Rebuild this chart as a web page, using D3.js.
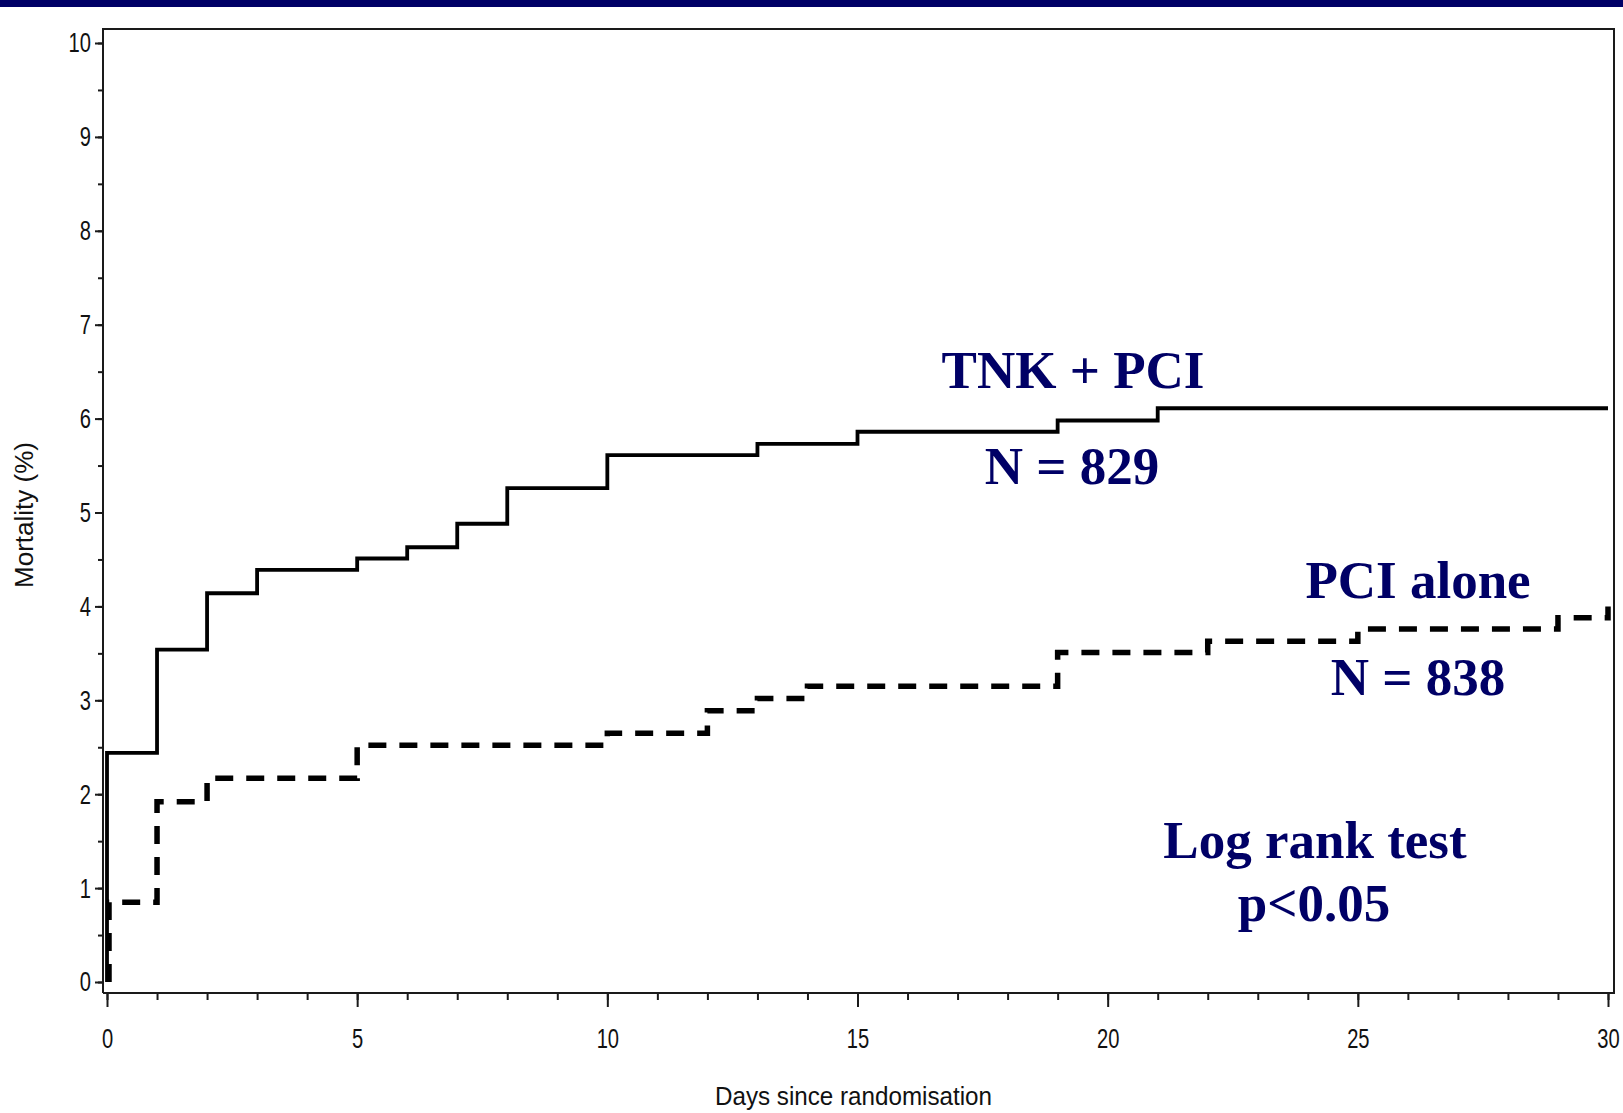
<!DOCTYPE html>
<html>
<head>
<meta charset="utf-8">
<script src="https://cdn.jsdelivr.net/npm/d3@7"></script>
<style>
  html, body { margin: 0; padding: 0; background: #fff; }
  svg { display: block; }
  .tick-lbl { font-family: "Liberation Sans", Arial, sans-serif; font-size: 28px; fill: #111; }
  .ax-title { font-family: "Liberation Sans", Arial, sans-serif; font-size: 25px; fill: #111; }
  .note { font-family: "Liberation Serif", "Times New Roman", serif; font-weight: bold; font-size: 53px; fill: #000066; }
</style>
</head>
<body>
<div id="chart"></div>
<script>
/* ── data ── */
const tnkDays = [0, 0, 1, 2, 3, 5, 6, 7, 8, 10, 13, 15, 19, 21, 30];
const tnkMort = [0, 2.44, 3.54, 4.14, 4.39, 4.51, 4.63, 4.88, 5.26, 5.61, 5.73, 5.86, 5.98, 6.11, 6.11];

const pciDays = [0.04, 0.04, 1, 2, 5, 10, 12, 13, 14, 19, 22, 25, 29, 30];
const pciMort = [0, 0.85, 1.92, 2.17, 2.52, 2.65, 2.89, 3.02, 3.15, 3.51, 3.63, 3.76, 3.88, 4.0];

const xMajor = [0, 5, 10, 15, 20, 25, 30];
const xMinor = d3.range(0, 31, 1);
const yMajor = [0, 1, 2, 3, 4, 5, 6, 7, 8, 9, 10];
const yMinor = d3.range(0, 10.01, 0.5);

const xTitle = 'Days since randomisation';
const yTitle = 'Mortality (%)';
const notes  = ['TNK + PCI', 'N = 829', 'PCI alone', 'N = 838', 'Log rank test', 'p<0.05'];

/* ── layout ── */
const W = 1623, H = 1113;
const FL = 103, FR = 1614, FT = 29, FB = 993;   // frame
const SQ = 0.72;                                  // narrow tick font

const svg = d3.select('#chart').append('svg')
    .attr('width', W)
    .attr('height', H);

svg.append('rect').attr('x', 0).attr('y', 0).attr('width', W).attr('height', 7).attr('fill', '#000066');

const x = d3.scaleLinear().domain([0, 30]).range([107, 1608]);
const y = d3.scaleLinear().domain([0, 10]).range([982, 43]);

/* frame */
svg.append('path')
    .attr('d', `M${FL},${FB}V${FT}H${FR}V${FB}H${FL}`)
    .attr('fill', 'none')
    .attr('stroke', '#1a1a1a')
    .attr('stroke-width', 2);

/* axes */
function squeeze(sel) {
    sel.selectAll('text').each(function() {
        const t = d3.select(this);
        const tx = +t.attr('x') || 0;
        t.attr('x', 0).attr('class', 'tick-lbl')
         .attr('transform', `translate(${tx},0) scale(${SQ},1)`);
    });
}

const yMinG = svg.append('g').attr('transform', `translate(${FL},0)`)
    .call(d3.axisLeft(y).tickValues(yMinor).tickSize(5).tickFormat(''));
const yMajG = svg.append('g').attr('transform', `translate(${FL},0)`)
    .call(d3.axisLeft(y).tickValues(yMajor).tickSize(8).tickPadding(4).tickFormat(d3.format('d')));
yMajG.call(squeeze);

const xMinG = svg.append('g').attr('transform', `translate(0,${FB})`)
    .call(d3.axisBottom(x).tickValues(xMinor).tickSize(7).tickFormat(''));
const xMajG = svg.append('g').attr('transform', `translate(0,${FB})`)
    .call(d3.axisBottom(x).tickValues(xMajor).tickSize(14).tickPadding(21).tickFormat(d3.format('d')));
xMajG.call(squeeze);

[yMinG, yMajG, xMinG, xMajG].forEach(g => {
    g.select('.domain').remove();
    g.selectAll('.tick line').attr('stroke', '#1a1a1a').attr('stroke-width', 2);
});

/* axis titles */
svg.append('text').attr('class', 'ax-title')
    .attr('x', 715).attr('y', 1105)
    .attr('textLength', 277).attr('lengthAdjust', 'spacingAndGlyphs')
    .text(xTitle);

svg.append('text').attr('class', 'ax-title')
    .attr('transform', 'translate(33,588) rotate(-90)')
    .attr('textLength', 146).attr('lengthAdjust', 'spacingAndGlyphs')
    .text(yTitle);

/* curves */
const line = d3.line()
    .x(d => x(d[0]))
    .y(d => y(d[1]))
    .curve(d3.curveStepAfter);

svg.append('path')
    .datum(d3.zip(pciDays, pciMort))
    .attr('d', line)
    .attr('fill', 'none')
    .attr('stroke', '#000')
    .attr('stroke-width', 5.5)
    .attr('stroke-dasharray', '18,13');

svg.append('path')
    .datum(d3.zip(tnkDays, tnkMort))
    .attr('d', line)
    .attr('fill', 'none')
    .attr('stroke', '#000')
    .attr('stroke-width', 3.8);

/* annotations */
const notePos = [[1073, 388], [1072, 484], [1418, 598], [1418, 695], [1315, 858], [1314, 921]];
svg.selectAll('.note')
    .data(notes)
    .join('text')
    .attr('class', 'note')
    .attr('text-anchor', 'middle')
    .attr('x', (d, i) => notePos[i][0])
    .attr('y', (d, i) => notePos[i][1])
    .text(d => d);
</script>
</body>
</html>
